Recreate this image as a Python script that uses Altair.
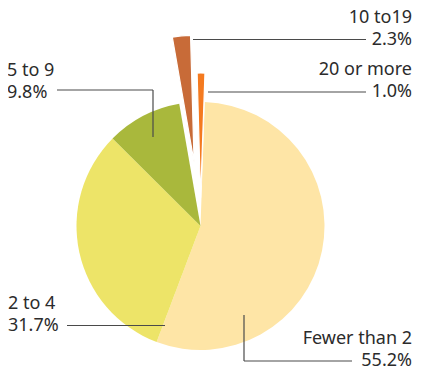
import math
import altair as alt
import pandas as pd

# ---- data ----
categories = ["Fewer than 2", "2 to 4", "5 to 9", "10 to19", "20 or more"]
shares = [55.2, 31.7, 9.8, 2.3, 1.0]
title_text = "2007"

# ---- styles ----
colors = ["#FEE5A6", "#EDE468", "#A9B83C", "#C86B38", "#F47A20"]
explode = {"Fewer than 2": 0, "2 to 4": 0, "5 to 9": 0, "10 to19": 64, "20 or more": 28}
outer_r = {"Fewer than 2": 124, "2 to 4": 124, "5 to 9": 124, "10 to19": 127, "20 or more": 125}
stroke_w = {"Fewer than 2": 0, "2 to 4": 0, "5 to 9": 0, "10 to19": 1.2, "20 or more": 1.2}
CX, CY = 192.5, 218.0
ROT = math.radians(2.0)
FONT = "Noto Sans"
TEXT_COLOR = "#2b2b2b"
LINE_COLOR = "#4a4a4a"

W, H = 405, 358

df = pd.DataFrame({"category": categories, "share": shares})
df["off"] = df["category"].map(explode)
df["R"] = df["category"].map(outer_r)
df["sw"] = df["category"].map(stroke_w)

pie = (
    alt.Chart(df)
    .transform_window(cum="sum(share)", frame=[None, 0])
    .transform_joinaggregate(total="sum(share)")
    .transform_calculate(
        t0=f"{ROT} + 2*PI*(datum.cum - datum.share)/datum.total",
        t1=f"{ROT} + 2*PI*datum.cum/datum.total",
    )
    .transform_calculate(mid="(datum.t0 + datum.t1)/2")
    .transform_calculate(
        cx=f"{CX} + datum.off*sin(datum.mid)",
        cy=f"{CY} - datum.off*cos(datum.mid)",
    )
    .mark_arc(stroke="white")
    .encode(
        theta=alt.Theta("t0:Q", scale=None, stack=None),
        theta2="t1:Q",
        radius=alt.Radius("R:Q", scale=None),
        x=alt.X("cx:Q", scale=None),
        y=alt.Y("cy:Q", scale=None),
        strokeWidth=alt.StrokeWidth("sw:Q", scale=None),
        color=alt.Color("category:N", scale=alt.Scale(domain=categories, range=colors), legend=None),
    )
)

# label text: name line and percent line
pct = [f"{v:.1f}%" for v in shares]
label_pos = {  # (x, baseline of first line, align) in svg pixels
    "Fewer than 2": (404, 335.5, "right"),
    "2 to 4": (0, 301, "left"),
    "5 to 9": (-1, 68, "left"),
    "10 to19": (404, 15, "right"),
    "20 or more": (404, 67, "right"),
}
LINE_GAP = 22.3
rows = []
for c, p in zip(categories, pct):
    x, y, a = label_pos[c]
    rows.append({"t": c, "x": x, "y": y, "a": a})
    rows.append({"t": p, "x": x, "y": y + LINE_GAP, "a": a})
lab = pd.DataFrame(rows)

def text_layer(align):
    return (
        alt.Chart(lab[lab["a"] == align])
        .mark_text(align=align, baseline="alphabetic", font=FONT, fontSize=18, color=TEXT_COLOR)
        .encode(x=alt.X("x:Q", scale=None), y=alt.Y("y:Q", scale=None), text="t:N")
    )

# leader lines (svg pixels)
seg = pd.DataFrame(
    [
        {"x": 185, "y": 31.5, "x2": 358, "y2": 31.5},
        {"x": 200, "y": 84, "x2": 358, "y2": 84},
        {"x": 49, "y": 82, "x2": 145, "y2": 82},
        {"x": 145, "y": 82, "x2": 145, "y2": 129},
        {"x": 59, "y": 317.5, "x2": 157, "y2": 317.5},
        {"x": 236, "y": 307, "x2": 236, "y2": 353},
        {"x": 236, "y": 353, "x2": 344, "y2": 353},
    ]
)
rules = (
    alt.Chart(seg)
    .mark_rule(color=LINE_COLOR, strokeWidth=1.2)
    .encode(
        x=alt.X("x:Q", scale=None),
        y=alt.Y("y:Q", scale=None),
        x2="x2:Q",
        y2="y2:Q",
    )
)

title = (
    alt.Chart(pd.DataFrame({"t": [title_text]}))
    .mark_text(align="left", baseline="alphabetic", font=FONT, fontSize=34, fontWeight="bold", color="#1a1a1a")
    .encode(x=alt.value(-9), y=alt.value(-4), text="t:N")
)

chart = (
    alt.layer(pie, rules, text_layer("left"), text_layer("right"), title)
    .properties(width=W, height=H, autosize=alt.AutoSizeParams(type="none"), padding=0)
    .configure_view(stroke=None)
)

chart.save("out.html", embed_options={"renderer": "svg", "actions": False})
